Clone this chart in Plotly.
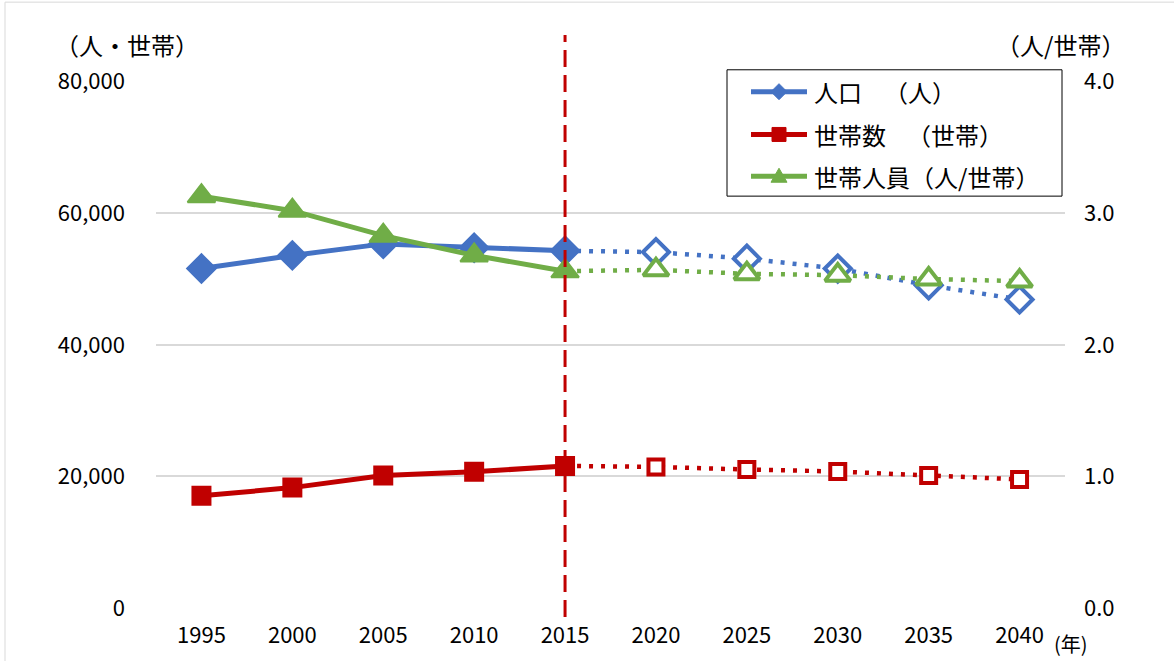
import plotly.graph_objects as go

# ---------------- data ----------------
years = [1995, 2000, 2005, 2010, 2015, 2020, 2025, 2030, 2035, 2040]
last_actual_year = 2015
population = [51600, 53600, 55350, 54750, 54300, 54100, 53100, 51600, 49050, 46900]
households = [17050, 18300, 20150, 20700, 21600, 21450, 21050, 20750, 20150, 19550]
household_size = [3.13, 3.02, 2.83, 2.68, 2.56, 2.57, 2.54, 2.53, 2.50, 2.485]

series_names = ["人口", "世帯数", "世帯人員（人/世帯）"]
series_units = ["（人）", "（世帯）", ""]
left_title = "（人・世帯）"
right_title = "（人/世帯）"
x_unit = "(年)"

BLUE = "#4472C4"
RED = "#C00000"
GREEN = "#70AD47"
GRID = "#D9D9D9"
FONT = "Noto Sans CJK JP"

W, H = 1174, 661
ML, MR, MT, MB = 156, 109, 30, 50
PW = W - ML - MR
PH = H - MT - MB
PLOT_TOP = 82


def px(xp):
    return (xp - ML) / PW


def py(yp):
    return (H - MB - yp) / PH


cats = [str(y) for y in years]
split = years.index(last_actual_year)
act_x = cats[: split + 1]
proj_x = cats[split:]
projm_x = cats[split + 1:]

fig = go.Figure()

specs = [
    (population, BLUE, "diamond", 22, 20, "y"),
    (households, RED, "square", 18, 15, "y"),
    (household_size, GREEN, "triangle-up", 24, 22, "y2"),
]

for vals, col, sym, msize, osize, yax in specs:
    # projection dotted line
    fig.add_trace(go.Scatter(
        x=proj_x, y=vals[split:], mode="lines", yaxis=yax,
        line=dict(color=col, width=4.5, dash="4px,8px"),
        showlegend=False, hoverinfo="skip"))
    # actual solid line + filled markers
    fig.add_trace(go.Scatter(
        x=act_x, y=vals[: split + 1], mode="lines+markers", yaxis=yax,
        line=dict(color=col, width=5),
        marker=dict(symbol=sym, size=msize, color=col, line=dict(color=col, width=2)),
        showlegend=False))
    # projection open markers
    fig.add_trace(go.Scatter(
        x=projm_x, y=vals[split + 1:], mode="markers", yaxis=yax,
        marker=dict(symbol=sym, size=osize, color="white", line=dict(color=col, width=4)),
        showlegend=False))

shapes = []
annotations = []

# vertical dashed line at the last actual year
shapes.append(dict(type="line", xref="x", yref="paper",
                   x0=split, x1=split, y0=py(620), y1=py(35),
                   line=dict(color=RED, width=3, dash="17px,8px"), layer="above"))

# outer chart border
shapes.append(dict(type="rect", xref="paper", yref="paper",
                   x0=px(5), x1=px(1200), y0=py(700), y1=py(2),
                   line=dict(color=GRID, width=1), fillcolor="rgba(0,0,0,0)", layer="below"))

# legend box
shapes.append(dict(type="rect", xref="paper", yref="paper",
                   x0=px(727), x1=px(1062), y0=py(197), y1=py(70),
                   line=dict(color="black", width=1), fillcolor="white", layer="above"))

leg_rows = [92, 135, 177]
leg_paths = [
    "M0,8 L8,0 L0,-8 L-8,0 Z",
    "M-7,-7 L7,-7 L7,7 L-7,7 Z",
    "M-8,-6 L8,-6 L0,8 Z",
]
unit_x = [882, 905]
for i, (vals, col, sym, msize, osize, yax) in enumerate(specs):
    yr = leg_rows[i]
    shapes.append(dict(type="line", xref="paper", yref="paper",
                       x0=px(751), x1=px(807), y0=py(yr), y1=py(yr),
                       line=dict(color=col, width=5), layer="above"))
    shapes.append(dict(type="path", xref="paper", yref="paper",
                       xsizemode="pixel", ysizemode="pixel",
                       xanchor=px(779), yanchor=py(yr),
                       path=leg_paths[i], fillcolor=col,
                       line=dict(color=col, width=1), layer="above"))
    annotations.append(dict(xref="paper", yref="paper", x=px(812), y=py(yr),
                            xanchor="left", yanchor="middle", showarrow=False,
                            text=series_names[i], font=dict(family=FONT, size=24, color="black")))
    if series_units[i]:
        annotations.append(dict(xref="paper", yref="paper", x=px(unit_x[i]), y=py(yr),
                                xanchor="left", yanchor="middle", showarrow=False,
                                text=series_units[i], font=dict(family=FONT, size=24, color="black")))

annotations.append(dict(xref="paper", yref="paper", x=px(127), y=py(45),
                        xanchor="center", yanchor="middle", showarrow=False,
                        text=left_title, font=dict(family=FONT, size=24, color="black")))
annotations.append(dict(xref="paper", yref="paper", x=px(1060), y=py(45),
                        xanchor="center", yanchor="middle", showarrow=False,
                        text=right_title, font=dict(family=FONT, size=24, color="black")))
annotations.append(dict(xref="paper", yref="paper", x=px(1071), y=py(647),
                        xanchor="center", yanchor="middle", showarrow=False,
                        text=x_unit, font=dict(family=FONT, size=20, color="black")))

ydom_top = py(PLOT_TOP)

fig.update_layout(
    width=W, height=H,
    margin=dict(l=ML, r=MR, t=MT, b=MB, pad=0),
    paper_bgcolor="white", plot_bgcolor="white",
    font=dict(family=FONT, size=22, color="black"),
    showlegend=False,
    shapes=shapes, annotations=annotations,
    xaxis=dict(type="category", categoryorder="array", categoryarray=cats,
               range=[-0.5, len(cats) - 0.5], showgrid=False, zeroline=False,
               showline=False, ticks="", ticklabelstandoff=12,
               tickfont=dict(family=FONT, size=22, color="black")),
    yaxis=dict(domain=[0, ydom_top], range=[0, 80000], dtick=20000,
               tickformat=",", showgrid=True, gridcolor=GRID, gridwidth=1.5,
               zeroline=False, showline=False, ticks="", ticklabelstandoff=30,
               tickfont=dict(family=FONT, size=22, color="black")),
    yaxis2=dict(overlaying="y", side="right", range=[0, 4], dtick=1,
                tickformat=".1f", showgrid=False, zeroline=False, showline=False,
                ticks="", ticklabelstandoff=18,
                tickfont=dict(family=FONT, size=22, color="black")),
)

fig.write_html("out.html")
